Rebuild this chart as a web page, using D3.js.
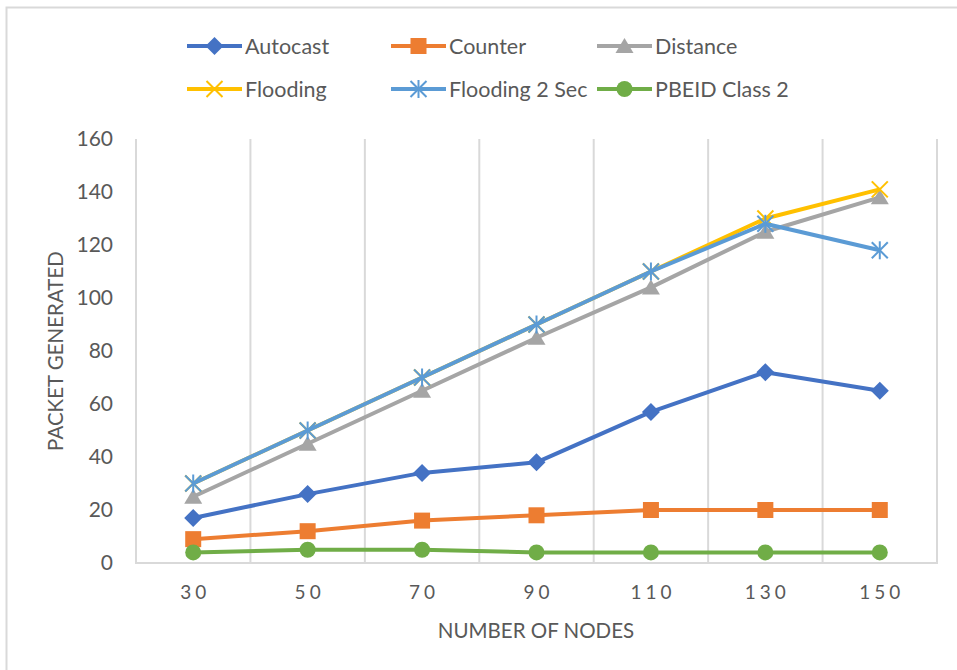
<!DOCTYPE html>
<html>
<head>
<meta charset="utf-8">
<script src="https://cdn.jsdelivr.net/npm/d3@7"></script>
<style>
  body { margin: 0; background: #fff; }
  text { font-family: Lato, "Open Sans", sans-serif; fill: #595959; }
</style>
</head>
<body>
<div id="chart"></div>
<script>
const nodes = ["30", "50", "70", "90", "110", "130", "150"];
const yTicks = [0, 20, 40, 60, 80, 100, 120, 140, 160];

const autocast = [17, 26, 34, 38, 57, 72, 65];
const counter = [9, 12, 16, 18, 20, 20, 20];
const distance = [25, 45, 65, 85, 104, 125, 138];
const flooding = [30, 50, 70, 90, 110, 130, 141];
const flooding2 = [30, 50, 70, 90, 110, 128, 118];
const pbeid = [4, 5, 5, 4, 4, 4, 4];

const seriesNames = ["Autocast", "Counter", "Distance", "Flooding", "Flooding 2 Sec", "PBEID Class 2"];
const seriesColors = ["#4472C4", "#ED7D31", "#A5A5A5", "#FFC000", "#5B9BD5", "#70AD47"];
const seriesMarkers = ["diamond", "square", "triangle", "cross", "asterisk", "circle"];
const seriesValues = [autocast, counter, distance, flooding, flooding2, pbeid];

const W = 957, H = 670;
const plot = {left: 136, right: 937, top: 139, bottom: 563};

const svg = d3.select("#chart").append("svg")
  .attr("width", W).attr("height", H);

// chart area border
svg.append("rect")
  .attr("x", 6.5).attr("y", 7.5)
  .attr("width", W).attr("height", H)
  .attr("fill", "none").attr("stroke", "#D9D9D9").attr("stroke-width", 2);

let x = d3.scaleBand().domain(nodes).range([plot.left, plot.right]);
let y = d3.scaleLinear().domain([0, 160]).range([plot.bottom, plot.top]);
const cx = d => x(d) + x.bandwidth() / 2;

// vertical gridlines at category boundaries
svg.append("g").selectAll("line")
  .data(nodes)
  .enter().append("line")
    .attr("x1", d => x(d) + x.step())
    .attr("x2", d => x(d) + x.step())
    .attr("y1", plot.top).attr("y2", plot.bottom)
    .attr("stroke", "#D9D9D9").attr("stroke-width", 2);

// axes lines
svg.append("line")
  .attr("x1", plot.left).attr("x2", plot.left)
  .attr("y1", plot.top).attr("y2", plot.bottom)
  .attr("stroke", "#D9D9D9").attr("stroke-width", 2);
svg.append("line")
  .attr("x1", plot.left - 1).attr("x2", plot.right + 1)
  .attr("y1", plot.bottom).attr("y2", plot.bottom)
  .attr("stroke", "#D9D9D9").attr("stroke-width", 2);

// y tick labels
svg.append("g").selectAll("text")
  .data(yTicks).enter().append("text")
    .attr("x", 113).attr("y", d => y(d))
    .attr("dy", "0.35em")
    .attr("text-anchor", "end")
    .style("font-size", "21px")
    .text(d => d);

// x tick labels
svg.append("g").selectAll("text")
  .data(nodes).enter().append("text")
    .attr("x", d => cx(d) + 2).attr("y", 599)
    .attr("text-anchor", "middle")
    .style("font-size", "19px")
    .style("letter-spacing", "4px")
    .text(d => d);

// axis titles
svg.append("text")
  .attr("x", 536).attr("y", 638)
  .attr("text-anchor", "middle")
  .style("font-size", "20.5px")
  .text("NUMBER OF NODES");
svg.append("text")
  .attr("transform", "translate(63,351) rotate(-90)")
  .attr("text-anchor", "middle")
  .style("font-size", "20.5px")
  .text("PACKET GENERATED");

function drawMarker(g, kind, color, px, py) {
  const m = g.append("g").attr("transform", `translate(${px},${py})`);
  if (kind === "cross" || kind === "asterisk") {
    const r = 8;
    m.attr("stroke", color).attr("stroke-width", 2).attr("fill", "none");
    m.append("line").attr("x1", -r).attr("y1", -r).attr("x2", r).attr("y2", r);
    m.append("line").attr("x1", -r).attr("y1", r).attr("x2", r).attr("y2", -r);
    if (kind === "asterisk")
      m.append("line").attr("x1", 0).attr("y1", -r - 1).attr("x2", 0).attr("y2", r + 1);
  } else if (kind === "diamond") {
    m.append("path").attr("d", "M0,-9L9,0L0,9L-9,0Z").attr("fill", color);
  } else if (kind === "square") {
    m.append("rect").attr("x", -8).attr("y", -8).attr("width", 16).attr("height", 16).attr("fill", color);
  } else if (kind === "triangle") {
    m.append("path").attr("d", "M0,-8L9,7L-9,7Z").attr("fill", color);
  } else {
    m.append("circle").attr("r", 8).attr("fill", color);
  }
}

const line = d3.line().x((d, i) => cx(nodes[i])).y(d => y(d));

seriesValues.forEach((vals, s) => {
  const g = svg.append("g");
  g.append("path")
    .datum(vals)
    .attr("d", line)
    .attr("fill", "none")
    .attr("stroke", seriesColors[s])
    .attr("stroke-width", 4)
    .attr("stroke-linejoin", "round");
  vals.forEach((v, i) => drawMarker(g, seriesMarkers[s], seriesColors[s], cx(nodes[i]), y(v)));
});

// legend
const legendCols = [187, 391, 597];
const legendRows = [46, 89];
seriesNames.forEach((name, s) => {
  const lx = legendCols[s % 3], ly = legendRows[Math.floor(s / 3)];
  const g = svg.append("g");
  g.append("line")
    .attr("x1", lx).attr("x2", lx + 55)
    .attr("y1", ly).attr("y2", ly)
    .attr("stroke", seriesColors[s]).attr("stroke-width", 4);
  drawMarker(g, seriesMarkers[s], seriesColors[s], lx + 27.5, ly);
  g.append("text")
    .attr("x", lx + 58).attr("y", ly)
    .attr("dy", "0.35em")
    .style("font-size", "21.5px")
    .text(name);
});
</script>
</body>
</html>
